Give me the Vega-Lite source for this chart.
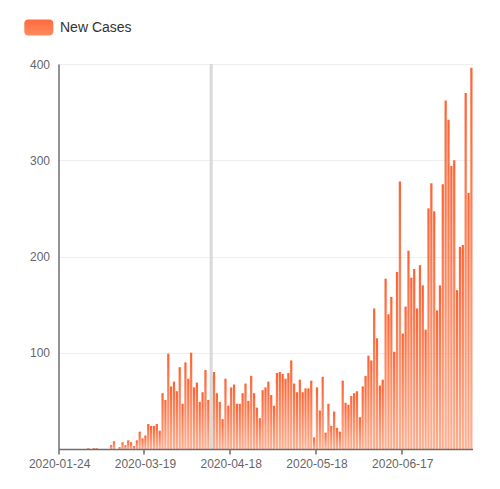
{
  "$schema": "https://vega.github.io/schema/vega-lite/v6.json",
  "width": 414,
  "height": 385,
  "autosize": {"type": "none"},
  "padding": {"left": 58.5, "top": 64, "right": 27.5, "bottom": 40},
  "config": {"view": {"stroke": null}, "font": "Liberation Sans"},
  "data": {"values": [
    {"date": "2020-01-24", "cases": 0}, {"date": "2020-01-25", "cases": 0}, {"date": "2020-01-26", "cases": 0}, {"date": "2020-01-27", "cases": 0},
    {"date": "2020-01-28", "cases": 0}, {"date": "2020-01-29", "cases": 0}, {"date": "2020-01-30", "cases": 0}, {"date": "2020-01-31", "cases": 0},
    {"date": "2020-02-26", "cases": 0}, {"date": "2020-02-27", "cases": 0}, {"date": "2020-02-28", "cases": 1}, {"date": "2020-02-29", "cases": 0},
    {"date": "2020-03-01", "cases": 1}, {"date": "2020-03-02", "cases": 1}, {"date": "2020-03-03", "cases": 0}, {"date": "2020-03-04", "cases": 0},
    {"date": "2020-03-05", "cases": 0}, {"date": "2020-03-06", "cases": 0}, {"date": "2020-03-07", "cases": 4}, {"date": "2020-03-08", "cases": 8},
    {"date": "2020-03-09", "cases": 0}, {"date": "2020-03-10", "cases": 2}, {"date": "2020-03-11", "cases": 7}, {"date": "2020-03-12", "cases": 4},
    {"date": "2020-03-13", "cases": 9}, {"date": "2020-03-14", "cases": 7}, {"date": "2020-03-15", "cases": 3}, {"date": "2020-03-16", "cases": 9},
    {"date": "2020-03-17", "cases": 18}, {"date": "2020-03-18", "cases": 11}, {"date": "2020-03-19", "cases": 14}, {"date": "2020-03-20", "cases": 26},
    {"date": "2020-03-21", "cases": 24}, {"date": "2020-03-22", "cases": 24}, {"date": "2020-03-23", "cases": 26}, {"date": "2020-03-24", "cases": 19},
    {"date": "2020-03-25", "cases": 58}, {"date": "2020-03-26", "cases": 51}, {"date": "2020-03-27", "cases": 99}, {"date": "2020-03-28", "cases": 65},
    {"date": "2020-03-29", "cases": 70}, {"date": "2020-03-30", "cases": 60}, {"date": "2020-03-31", "cases": 85}, {"date": "2020-04-01", "cases": 47},
    {"date": "2020-04-02", "cases": 90}, {"date": "2020-04-03", "cases": 73}, {"date": "2020-04-04", "cases": 100}, {"date": "2020-04-05", "cases": 64},
    {"date": "2020-04-06", "cases": 69}, {"date": "2020-04-07", "cases": 49}, {"date": "2020-04-08", "cases": 59}, {"date": "2020-04-09", "cases": 82},
    {"date": "2020-04-10", "cases": 51}, {"date": "2020-04-11", "cases": 76}, {"date": "2020-04-12", "cases": 80}, {"date": "2020-04-13", "cases": 58},
    {"date": "2020-04-14", "cases": 49}, {"date": "2020-04-15", "cases": 31}, {"date": "2020-04-16", "cases": 73}, {"date": "2020-04-17", "cases": 45},
    {"date": "2020-04-18", "cases": 64}, {"date": "2020-04-19", "cases": 67}, {"date": "2020-04-20", "cases": 47}, {"date": "2020-04-21", "cases": 47},
    {"date": "2020-04-22", "cases": 58}, {"date": "2020-04-23", "cases": 68}, {"date": "2020-04-24", "cases": 50}, {"date": "2020-04-25", "cases": 76},
    {"date": "2020-04-26", "cases": 58}, {"date": "2020-04-27", "cases": 43}, {"date": "2020-04-28", "cases": 32}, {"date": "2020-04-29", "cases": 61},
    {"date": "2020-04-30", "cases": 64}, {"date": "2020-05-01", "cases": 70}, {"date": "2020-05-02", "cases": 56}, {"date": "2020-05-03", "cases": 45},
    {"date": "2020-05-04", "cases": 79}, {"date": "2020-05-05", "cases": 80}, {"date": "2020-05-06", "cases": 78}, {"date": "2020-05-07", "cases": 73},
    {"date": "2020-05-08", "cases": 79}, {"date": "2020-05-09", "cases": 92}, {"date": "2020-05-10", "cases": 68}, {"date": "2020-05-11", "cases": 59},
    {"date": "2020-05-12", "cases": 72}, {"date": "2020-05-13", "cases": 59}, {"date": "2020-05-14", "cases": 63}, {"date": "2020-05-15", "cases": 63},
    {"date": "2020-05-16", "cases": 71}, {"date": "2020-05-17", "cases": 12}, {"date": "2020-05-18", "cases": 64}, {"date": "2020-05-19", "cases": 40},
    {"date": "2020-05-20", "cases": 75}, {"date": "2020-05-21", "cases": 17}, {"date": "2020-05-22", "cases": 47}, {"date": "2020-05-23", "cases": 24},
    {"date": "2020-05-24", "cases": 39}, {"date": "2020-05-25", "cases": 22}, {"date": "2020-05-26", "cases": 18}, {"date": "2020-05-27", "cases": 71},
    {"date": "2020-05-28", "cases": 48}, {"date": "2020-05-29", "cases": 46}, {"date": "2020-05-30", "cases": 55}, {"date": "2020-05-31", "cases": 58},
    {"date": "2020-06-01", "cases": 60}, {"date": "2020-06-02", "cases": 33}, {"date": "2020-06-03", "cases": 65}, {"date": "2020-06-04", "cases": 76},
    {"date": "2020-06-05", "cases": 97}, {"date": "2020-06-06", "cases": 92}, {"date": "2020-06-07", "cases": 146}, {"date": "2020-06-08", "cases": 115},
    {"date": "2020-06-09", "cases": 66}, {"date": "2020-06-10", "cases": 72}, {"date": "2020-06-11", "cases": 177}, {"date": "2020-06-12", "cases": 140},
    {"date": "2020-06-13", "cases": 158}, {"date": "2020-06-14", "cases": 101}, {"date": "2020-06-15", "cases": 184}, {"date": "2020-06-16", "cases": 278},
    {"date": "2020-06-17", "cases": 120}, {"date": "2020-06-18", "cases": 148}, {"date": "2020-06-19", "cases": 206}, {"date": "2020-06-20", "cases": 178},
    {"date": "2020-06-21", "cases": 187}, {"date": "2020-06-22", "cases": 146}, {"date": "2020-06-23", "cases": 191}, {"date": "2020-06-24", "cases": 170},
    {"date": "2020-06-25", "cases": 124}, {"date": "2020-06-26", "cases": 250}, {"date": "2020-06-27", "cases": 276}, {"date": "2020-06-28", "cases": 247},
    {"date": "2020-06-29", "cases": 144}, {"date": "2020-06-30", "cases": 170}, {"date": "2020-07-01", "cases": 275}, {"date": "2020-07-02", "cases": 362},
    {"date": "2020-07-03", "cases": 342}, {"date": "2020-07-04", "cases": 294}, {"date": "2020-07-05", "cases": 300}, {"date": "2020-07-06", "cases": 165},
    {"date": "2020-07-07", "cases": 210}, {"date": "2020-07-08", "cases": 212}, {"date": "2020-07-09", "cases": 370}, {"date": "2020-07-10", "cases": 266},
    {"date": "2020-07-11", "cases": 396}
  ]},
  "layer": [
    {
      "mark": {
        "type": "bar",
        "color": {"gradient": "linear", "x1": 0, "y1": 0, "x2": 0, "y2": 1,
          "stops": [{"offset": 0, "color": "#ff6232"}, {"offset": 1, "color": "#ffb092"}]}
      },
      "encoding": {
        "x": {
          "field": "date", "type": "ordinal",
          "scale": {"paddingInner": 0.22, "paddingOuter": 0},
          "axis": {
            "title": null,
            "values": ["2020-01-24", "2020-03-19", "2020-04-18", "2020-05-18", "2020-06-17"],
            "labelAngle": 0, "labelFontSize": 12, "labelColor": "#666666", "labelPadding": 4,
            "bandPosition": 0, "tickSize": 5, "tickColor": "#6e6e6e", "tickWidth": 1.5,
            "domainColor": "#6e6e6e", "domainWidth": 1.5, "grid": false, "zindex": 1
          }
        },
        "y": {
          "field": "cases", "type": "quantitative",
          "scale": {"domain": [0, 400], "nice": false},
          "axis": {
            "title": null, "values": [0, 100, 200, 300, 400],
            "labelExpr": "datum.value === 0 ? '' : datum.label",
            "labelFontSize": 12, "labelColor": "#666666", "labelPadding": 9,
            "ticks": false, "domainColor": "#6e6e6e", "domainWidth": 1.5,
            "grid": true, "gridColor": "#eeeeee", "gridWidth": 1
          }
        }
      }
    },
    {
      "data": {"values": [{"date": "2020-04-11", "series": "New Cases"}]},
      "mark": {"type": "rule", "strokeWidth": 3},
      "encoding": {
        "x": {"field": "date", "type": "ordinal"},
        "color": {
          "field": "series", "type": "nominal",
          "scale": {"range": ["#d9d9d9"]},
          "legend": {
            "title": null, "orient": "none", "legendX": -34.2, "legendY": -51, "padding": 0,
            "symbolType": "M-0.72,-0.55 L0.72,-0.55 Q1,-0.55 1,-0.27 L1,0.27 Q1,0.55 0.72,0.55 L-0.72,0.55 Q-1,0.55 -1,0.27 L-1,-0.27 Q-1,-0.55 -0.72,-0.55 Z",
            "symbolSize": 841, "labelFontSize": 14, "labelColor": "#333333", "labelOffset": 6.7,
            "encode": {"symbols": {"update": {
              "fill": {"value": {"gradient": "linear", "x1": 0, "y1": 0, "x2": 0, "y2": 1,
                "stops": [{"offset": 0, "color": "#ff6a3c"}, {"offset": 1, "color": "#ff8c62"}]}},
              "stroke": {"value": "transparent"}, "strokeWidth": {"value": 0}, "opacity": {"value": 1}
            }}}
          }
        }
      }
    }
  ]
}
